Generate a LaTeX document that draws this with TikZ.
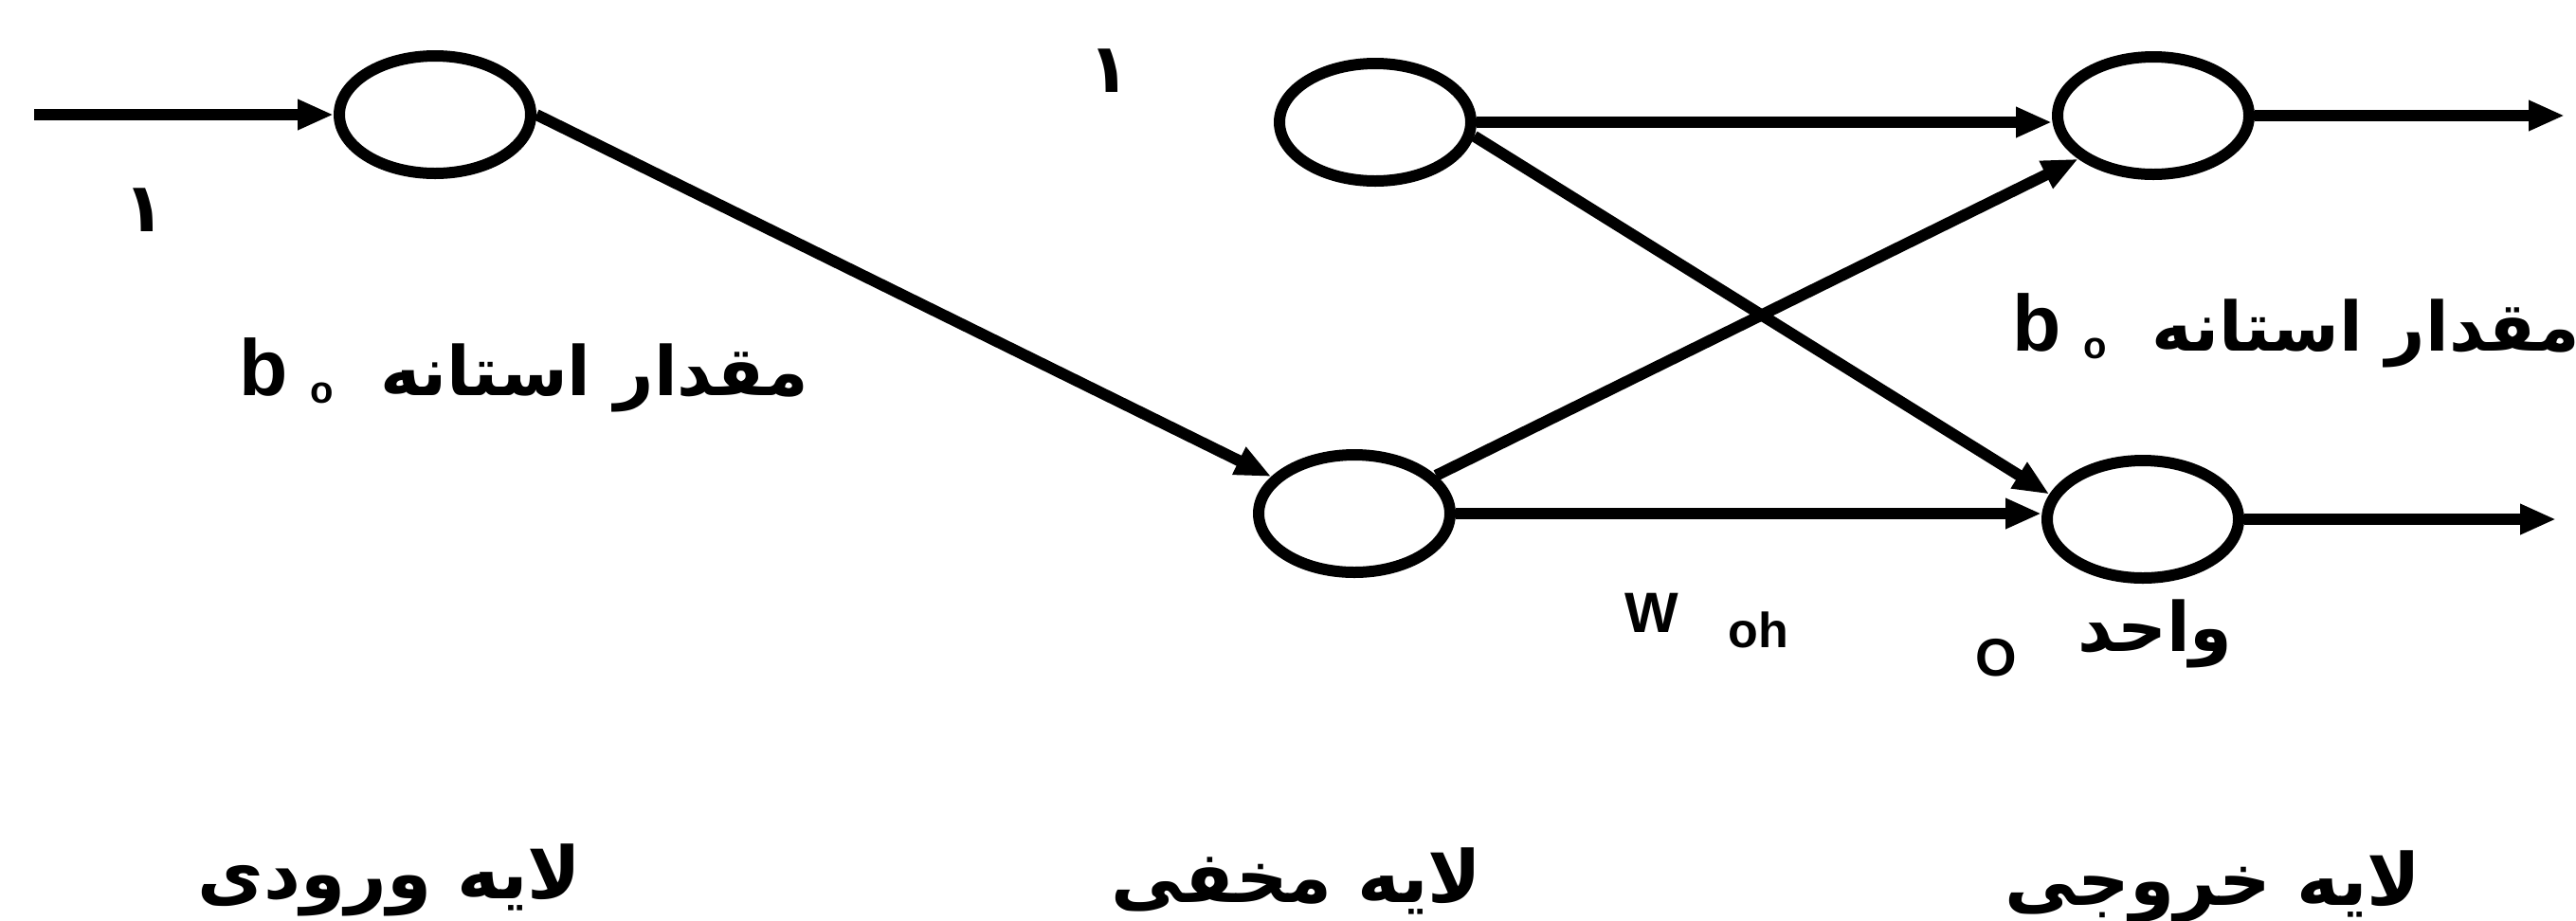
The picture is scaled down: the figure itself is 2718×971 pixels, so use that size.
\documentclass[tikz,border=0pt]{standalone}
\usepackage{fontspec}
\setmainfont{Liberation Sans}
\newfontfamily\arabicfont[Script=Arabic]{DejaVu Sans}
\TeXXeTstate=1
\usetikzlibrary{shapes.geometric,arrows.meta}
\begin{document}
\begin{tikzpicture}[x=0.5pt,y=-0.5pt,
  neuron/.style={ellipse,draw,line width=6pt,minimum width=101pt,minimum height=62pt,inner sep=0pt},
  conn/.style={line width=6pt,-{Triangle[length=19pt,width=15pt]}},
  ar/.style={font=\arabicfont\bfseries\fontsize{36}{42}\selectfont,inner sep=0pt},
  arl/.style={font=\arabicfont\bfseries\fontsize{38}{44}\selectfont,inner sep=0pt},
  lat/.style={font=\bfseries\fontsize{30}{36}\selectfont,inner sep=0pt}]
\useasboundingbox (0,0) rectangle (2718,971);
% neurons
\node[neuron] (in) at (459,121) {};
\node[neuron] (ht) at (1451,129) {};
\node[neuron] (hb) at (1429,542) {};
\node[neuron] (ot) at (2272,122) {};
\node[neuron] (ob) at (2261,548) {};
% free ends
\coordinate (src) at (36,121);
\coordinate (o1) at (2706,122);
\coordinate (o2) at (2697,548);
% connectors
\draw[conn] (src) -- (in.west);
\draw[conn] (in.east) -- (hb.156);
\draw[conn] (ht.east) -- (ht.east -| ot.west);
\draw[conn] (ht.-8) -- (ob.165);
\draw[conn] (hb.25) -- (ot.210);
\draw[conn] (hb.east) -- (hb.east -| ob.west);
\draw[conn] (ot.east) -- (o1);
\draw[conn] (ob.east) -- (o2);
% labels
\node[ar] (one1) at (152,222) {\beginR ۱\endR};
\node[ar] (one2) at (1170,75) {\beginR ۱\endR};
\node[lat,anchor=base,font=\bfseries\fontsize{42}{48}\selectfont] (bL) at (278,417) {b};
\node[lat,anchor=base,font=\bfseries\fontsize{20}{24}\selectfont] (oL) at (340,425) {o};
\node[ar,anchor=base] (tL) at (627,417) {\beginR مقدار استانه\endR};
\node[lat,anchor=base,font=\bfseries\fontsize{42}{48}\selectfont] (bR) at (2149,370) {b};
\node[lat,anchor=base,font=\bfseries\fontsize{20}{24}\selectfont] (oR) at (2211,378) {o};
\node[ar,anchor=base west] (tR) at (2270,370) {\beginR مقدار استانه\endR};
\node[lat,anchor=base] (W) at (1743,667) {W};
\node[lat,anchor=base,font=\bfseries\fontsize{26}{30}\selectfont] (oh) at (1855,683) {oh};
\node[lat,anchor=base,font=\bfseries\fontsize{28}{32}\selectfont] (O) at (2106,713) {O};
\node[ar,anchor=base] (unit) at (2274,687) {\beginR واحد\endR};
\node[arl,anchor=base] (l1) at (411,948) {\beginR لایه ورودی\endR};
\node[arl,anchor=base] (l2) at (1368,952) {\beginR لایه مخفی\endR};
\node[arl,anchor=base] (l3) at (2335,955) {\beginR لایه خروجی\endR};
\end{tikzpicture}
\end{document}
